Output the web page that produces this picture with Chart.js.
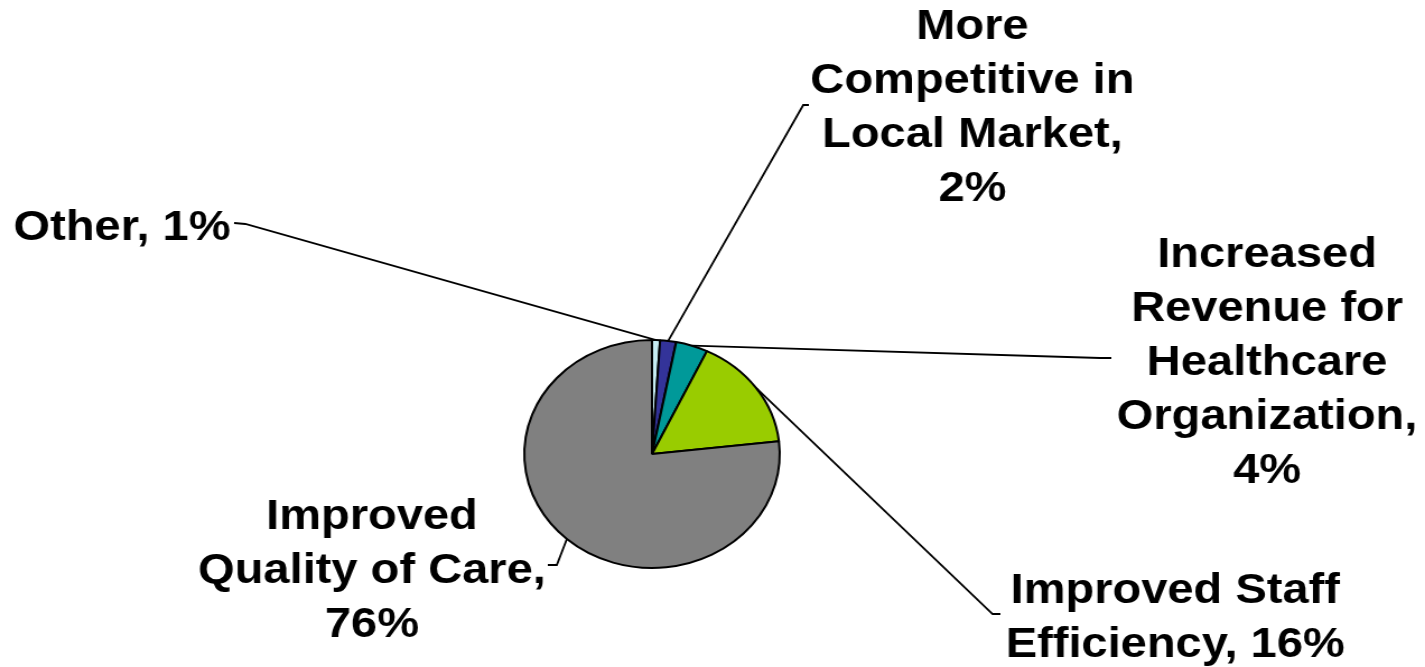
<!DOCTYPE html>
<html>
<head>
<meta charset="utf-8">
<script src="https://cdn.jsdelivr.net/npm/chart.js@4.4.0/dist/chart.umd.min.js"></script>
<style>
  html, body { margin: 0; padding: 0; background: #ffffff; overflow: hidden; }
  #wrap { width: 1425px; height: 667px; }
  #pieChart { transform: scaleX(1.1203); transform-origin: 0 0; }
</style>
</head>
<body>
<div id="wrap"><canvas id="pieChart" width="1272" height="667"></canvas></div>
<script>
// du lieu bieu do
var _categories = ['Other', 'More Competitive in Local Market', 'Increased Revenue for Healthcare Organization', 'Improved Staff Efficiency', 'Improved Quality of Care'];
var _values = [1, 2, 4, 16, 76];
var _colors = ['#c6ecf2', '#333399', '#009999', '#99cc00', '#808080'];
// nhan hien thi (tung dong)
var _labelLines = [
    ['Other, 1%'],
    ['More', 'Competitive in', 'Local Market,', '2%'],
    ['Increased', 'Revenue for', 'Healthcare', 'Organization,', '4%'],
    ['Improved Staff', 'Efficiency, 16%'],
    ['Improved', 'Quality of Care,', '76%']
];

// vi tri nhan va duong dan (toa do canvas truoc khi keo gian)
var _labelPos = [
    { x: 12, y: 228, align: 'left', elbow: [219, 224], end: [209, 223] },
    { x: 868, y: 27, align: 'center', elbow: [717, 105], end: [722, 105] },
    { x: 1131, y: 255, align: 'center', elbow: [982, 358], end: [992, 358] },
    { x: 1049, y: 591, align: 'center', elbow: [886, 614], end: [893, 614] },
    { x: 332, y: 517, align: 'center', elbow: [497, 565], end: [489, 565] }
];
var _lineHeight = 54;

var nhanPlugin = {
    id: 'nhanPlugin',
    afterDraw: function (chart) {
        var ctx = chart.ctx;
        var meta = chart.getDatasetMeta(0);
        ctx.save();
        // Ve duong dan tu mep lat cat den nhan
        meta.data.forEach(function (arc, i) {
            var p = arc.getProps(['x', 'y', 'startAngle', 'endAngle', 'outerRadius'], true);
            var mid = (p.startAngle + p.endAngle) / 2;
            var sx = p.x + Math.cos(mid) * p.outerRadius;
            var sy = p.y + Math.sin(mid) * p.outerRadius;
            var pos = _labelPos[i];
            ctx.beginPath();
            ctx.moveTo(sx, sy);
            ctx.lineTo(pos.elbow[0], pos.elbow[1]);
            ctx.lineTo(pos.end[0], pos.end[1]);
            ctx.strokeStyle = '#000000';
            ctx.lineWidth = 1.8;
            ctx.stroke();
        });
        ctx.fillStyle = '#000000';
        ctx.font = 'bold 42px "Liberation Sans", Arial, sans-serif';
        ctx.textBaseline = 'middle';
        _labelLines.forEach(function (lines, i) {
            var pos = _labelPos[i];
            ctx.textAlign = pos.align;
            lines.forEach(function (t, j) {
                ctx.fillText(t, pos.x, pos.y + j * _lineHeight);
            });
        });
        ctx.restore();
    }
};

var ctx = document.getElementById('pieChart').getContext('2d');
var _myChart = new Chart(ctx, {
    type: 'pie',
    data: {
        labels: _categories,
        datasets: [{
            data: _values,
            backgroundColor: _colors,
            borderColor: '#000000',
            borderWidth: 2
        }]
    },
    options: {
        responsive: false,
        animation: false,
        devicePixelRatio: 1,
        layout: { padding: { left: 467, right: 575, top: 339, bottom: 98 } },
        plugins: {
            legend: { display: false },
            tooltip: { enabled: false }
        }
    },
    plugins: [nhanPlugin]
});
</script>
</body>
</html>
